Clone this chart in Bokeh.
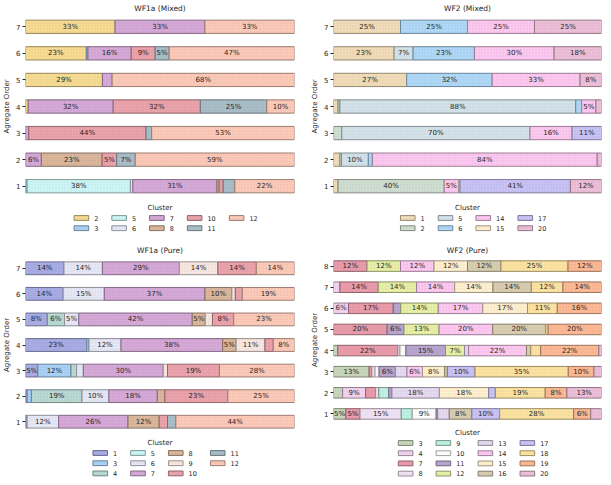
from bokeh.plotting import figure
from bokeh.models import ColumnDataSource, Range1d, FixedTicker
from bokeh.layouts import column, row
from bokeh.embed import file_html
from bokeh.resources import INLINE
from bokeh.core.properties import value

# ---------------- data ----------------
# WF1a (Mixed)
wf1a_mixed_clusters = [2, 3, 5, 6, 7, 8, 10, 11, 12]
wf1a_mixed_orders = [1, 2, 3, 4, 5, 6, 7]
wf1a_mixed_pct = [
    [0.0, 0.6, 38.4, 0.9, 31.3, 0.8, 1.5, 4.3, 22.2],
    [0.0, 0.0, 0.0, 0.0, 5.9, 22.6, 5.4, 6.9, 59.2],
    [0.0, 0.0, 0.0, 0.0, 1.2, 0.0, 43.6, 2.1, 53.1],
    [1.0, 0.0, 0.0, 0.0, 31.6, 0.0, 32.4, 24.7, 10.3],
    [28.6, 0.0, 0.0, 0.0, 3.6, 0.0, 0.0, 0.0, 67.8],
    [22.6, 0.6, 0.0, 0.0, 16.1, 0.0, 8.9, 5.2, 46.6],
    [33.3, 0.0, 0.0, 0.0, 33.4, 0.0, 0.0, 0.0, 33.3],
]

# WF2 (Mixed)
wf2_mixed_clusters = [1, 2, 5, 6, 14, 15, 17, 20]
wf2_mixed_orders = [1, 2, 3, 4, 5, 6, 7]
wf2_mixed_pct = [
    [1.7, 39.6, 0.0, 0.0, 5.4, 0.5, 41.2, 11.6],
    [2.4, 0.6, 10.0, 1.5, 83.9, 0.0, 0.0, 1.6],
    [0.0, 3.1, 70.2, 0.0, 15.7, 0.0, 11.0, 0.0],
    [1.7, 0.7, 88.0, 2.2, 5.3, 0.0, 0.0, 2.1],
    [27.3, 0.0, 0.0, 31.9, 32.8, 0.0, 0.0, 8.0],
    [22.6, 0.0, 7.1, 22.9, 29.7, 0.0, 0.0, 17.7],
    [25.0, 0.0, 0.0, 25.0, 25.0, 0.0, 0.0, 25.0],
]

# WF1a (Pure)
wf1a_pure_clusters = [1, 3, 4, 5, 6, 7, 8, 9, 10, 11, 12]
wf1a_pure_orders = [1, 2, 3, 4, 5, 6, 7]
wf1a_pure_pct = [
    [0.6, 0.0, 0.0, 0.0, 11.7, 25.8, 11.6, 0.0, 3.1, 3.1, 44.1],
    [0.6, 1.6, 18.8, 0.0, 10.0, 18.0, 2.8, 0.0, 23.4, 0.0, 24.8],
    [4.6, 12.3, 2.1, 0.0, 2.5, 29.7, 0.0, 1.6, 19.3, 0.0, 27.9],
    [22.8, 0.8, 0.0, 0.0, 11.9, 37.8, 5.0, 10.7, 3.1, 0.0, 7.9],
    [8.1, 0.0, 6.4, 0.0, 5.3, 42.2, 4.8, 2.7, 7.9, 0.0, 22.6],
    [14.0, 0.0, 0.0, 0.0, 15.3, 37.4, 10.0, 1.3, 2.6, 0.0, 19.4],
    [14.3, 0.0, 0.0, 0.0, 14.3, 28.6, 0.0, 14.3, 14.3, 0.0, 14.2],
]

# WF2 (Pure)
wf2_pure_clusters = [3, 4, 7, 8, 9, 10, 11, 12, 13, 14, 15, 16, 17, 18, 19, 20]
wf2_pure_orders = [1, 2, 3, 4, 5, 6, 7, 8]
wf2_pure_pct = [
    [4.6, 0.0, 5.3, 15.4, 4.1, 8.9, 0.6, 0.0, 4.3, 0.0, 0.0, 8.4, 10.4, 27.6, 6.4, 4.0],
    [3.4, 8.6, 3.7, 1.2, 3.7, 0.0, 1.2, 0.0, 17.7, 0.0, 18.4, 0.0, 2.5, 18.6, 8.1, 12.9],
    [13.3, 0.0, 1.0, 1.2, 0.0, 1.5, 6.1, 0.0, 4.3, 5.8, 8.3, 1.0, 10.3, 34.8, 9.6, 2.8],
    [1.6, 0.0, 22.4, 0.8, 0.0, 2.2, 14.8, 7.1, 1.5, 21.6, 0.0, 1.6, 0.0, 3.7, 21.7, 1.0],
    [0.0, 0.0, 20.0, 0.0, 0.0, 0.0, 6.3, 13.1, 0.0, 20.0, 0.0, 19.8, 0.0, 0.9, 19.9, 0.0],
    [0.0, 5.6, 16.7, 0.0, 0.0, 0.0, 2.8, 14.0, 0.0, 16.6, 16.7, 0.0, 0.0, 11.1, 16.5, 0.0],
    [0.0, 2.4, 14.3, 0.0, 0.0, 0.0, 0.0, 14.3, 0.0, 14.2, 14.3, 14.3, 0.0, 11.8, 14.4, 0.0],
    [0.0, 0.0, 12.5, 0.0, 0.0, 0.0, 0.0, 12.5, 0.0, 12.5, 12.5, 12.5, 0.0, 25.0, 12.5, 0.0],
]

# ---------------- styles ----------------
wf1a_colors = {
    1: "#a8ade6", 2: "#f7dc94", 3: "#a9d2f5", 4: "#b9d9d3", 5: "#cdf6f6",
    6: "#e6e8f6", 7: "#d6a9d9", 8: "#dbb79c", 9: "#f9e8e1", 10: "#eba3ac",
    11: "#a9bec9", 12: "#fdcab9",
}
wf2_colors = {
    1: "#f1ddb9", 2: "#cfdfd1", 3: "#c9d7bb", 4: "#f3d3f0", 5: "#d4e3ea",
    6: "#afd9f7", 7: "#ea9cab", 8: "#f2e2f5", 9: "#bff2e3", 10: "#ffffff",
    11: "#b9a6cf", 12: "#e7f0a6", 13: "#e6daf0", 14: "#fdc9f1", 15: "#fff0cf",
    16: "#d9cdb1", 17: "#c9c3f6", 18: "#fde3a2", 19: "#fdba95", 20: "#edbfd9",
}

FONT = "DejaVu Sans"
TXT = "#262626"


def darker(hexc, f=0.62):
    r, g, b = int(hexc[1:3], 16), int(hexc[3:5], 16), int(hexc[5:7], 16)
    return "#%02x%02x%02x" % (int(r * f), int(g * f), int(b * f))


def bar_style(col):
    edge = darker(col)
    return dict(fill_color=col, line_color=edge, line_width=1,
                hatch_pattern=".", hatch_scale=3, hatch_color=edge,
                hatch_alpha=0.22)


def make_bars(title, clusters, orders, pct, palette, width, height,
              bl, br, bt=0):
    p = figure(width=width, height=height, output_backend="svg",
               toolbar_location=None, title=title, x_axis_location=None,
               x_range=Range1d(0, 100),
               y_range=Range1d(orders[0] - 0.5, orders[-1] + 0.5),
               min_border_left=bl, min_border_right=br, min_border_top=bt,
               min_border_bottom=0)
    p.title.align = "center"
    p.title.text_font = FONT
    p.title.text_font_size = "7.5px"
    p.title.text_font_style = "normal"
    p.title.text_color = TXT
    p.title.standoff = 2

    lefts = [0.0] * len(orders)
    lx, ly, lt = [], [], []
    for j, c in enumerate(clusters):
        ys, ls, rs = [], [], []
        for i, o in enumerate(orders):
            v = pct[i][j]
            if v <= 0:
                continue
            ys.append(o)
            ls.append(lefts[i])
            rs.append(lefts[i] + v)
            txt = f"{v:.0f}"
            if int(txt) >= 5:
                lx.append(lefts[i] + v / 2)
                ly.append(o)
                lt.append(txt + "%")
            lefts[i] += v
        src = ColumnDataSource(dict(y=ys, left=ls, right=rs))
        p.hbar(y="y", left="left", right="right", height=0.5, source=src,
               **bar_style(palette[c]))

    p.text(x=lx, y=ly, text=lt, text_align="center", text_baseline="middle",
           text_font=value(FONT), text_font_size="7px", text_color=TXT)

    p.grid.visible = False
    p.outline_line_color = None
    p.yaxis.ticker = FixedTicker(ticks=orders)
    p.yaxis.axis_label = "Agregate Order"
    p.yaxis.axis_label_text_font = FONT
    p.yaxis.axis_label_text_font_size = "7px"
    p.yaxis.axis_label_text_font_style = "normal"
    p.yaxis.axis_label_text_color = TXT
    p.yaxis.axis_label_standoff = 2
    p.yaxis.axis_line_color = None
    p.yaxis.major_tick_in = 0
    p.yaxis.major_tick_out = 3
    p.yaxis.major_tick_line_color = TXT
    p.yaxis.minor_tick_line_color = None
    p.yaxis.major_label_text_font = FONT
    p.yaxis.major_label_text_font_size = "7px"
    p.yaxis.major_label_text_color = TXT
    p.yaxis.major_label_standoff = 2
    return p


def make_legend(clusters, palette, nrows, width, height, bl, br):
    fw = width - bl - br
    p = figure(width=width, height=height, output_backend="svg",
               toolbar_location=None, x_axis_location=None,
               y_axis_location=None, x_range=Range1d(0, fw),
               y_range=Range1d(height, 0), min_border_left=bl,
               min_border_right=br, min_border_top=0, min_border_bottom=0)
    p.outline_line_color = None
    p.grid.visible = False

    ncols = -(-len(clusters) // nrows)
    labels = [str(c) for c in clusters]
    # column widths follow the widest label in each column (pixels)
    pitches = []
    for cc in range(ncols):
        col_labels = labels[cc * nrows:(cc + 1) * nrows]
        nd = max(len(s) for s in col_labels)
        pitches.append(33.5 + 4.25 * nd)
    last_w = 14.6 + 5.5 + 4.25 * max(len(s) for s in labels[(ncols - 1) * nrows:])
    total = sum(pitches[:-1]) + last_w
    x0 = (fw - total) / 2 + 6
    xs = [x0]
    for pch in pitches[:-1]:
        xs.append(xs[-1] + pch)

    p.text(x=[fw / 2], y=[8], text=["Cluster"], text_align="center",
           text_baseline="middle", text_font=value(FONT),
           text_font_size="7px", text_color=TXT)

    for k, c in enumerate(clusters):
        cc, rr = divmod(k, nrows)
        gx = xs[cc] + 7.3
        gy = 18.5 + 10.2 * rr
        p.rect(x=[gx], y=[gy], width=14.6, height=4.8, width_units="screen",
               height_units="screen", **bar_style(palette[c]))
        p.text(x=[xs[cc] + 14.6 + 5.5], y=[gy], text=[str(c)],
               text_align="left", text_baseline="middle",
               text_font=value(FONT), text_font_size="6.5px", text_color=TXT)
    return p


LW, RW = 300, 303
LBL, LBR = 25, 6
RBL, RBR = 33, 2

b1 = make_bars("WF1a (Mixed)", wf1a_mixed_clusters, wf1a_mixed_orders,
               wf1a_mixed_pct, wf1a_colors, LW, 199, LBL, LBR)
l1 = make_legend(wf1a_mixed_clusters, wf1a_colors, 2, LW, 43, LBL, LBR)
b2 = make_bars("WF2 (Mixed)", wf2_mixed_clusters, wf2_mixed_orders,
               wf2_mixed_pct, wf2_colors, RW, 199, RBL, RBR)
l2 = make_legend(wf2_mixed_clusters, wf2_colors, 2, RW, 43, RBL, RBR)
b3 = make_bars("WF1a (Pure)", wf1a_pure_clusters, wf1a_pure_orders,
               wf1a_pure_pct, wf1a_colors, LW, 192, LBL, LBR, bt=5)
l3 = make_legend(wf1a_pure_clusters, wf1a_colors, 3, LW, 43, LBL, LBR)
b4 = make_bars("WF2 (Pure)", wf2_pure_clusters, wf2_pure_orders,
               wf2_pure_pct, wf2_colors, RW, 182, RBL, RBR, bt=5)
l4 = make_legend(wf2_pure_clusters, wf2_colors, 4, RW, 53, RBL, RBR)

layout = column(row(column(b1, l1), column(b2, l2)),
                row(column(b3, l3), column(b4, l4)))

open("out.html", "w").write(file_html(layout, INLINE))
